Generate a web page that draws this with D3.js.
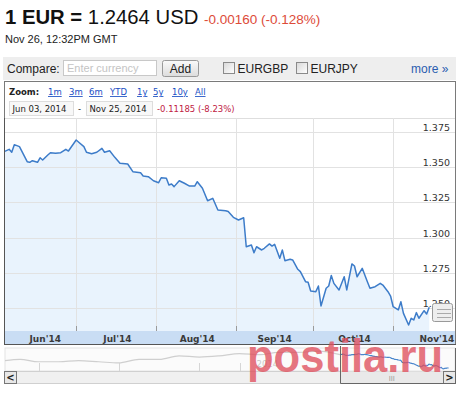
<!DOCTYPE html>
<html>
<head>
<meta charset="utf-8">
<script src="https://cdn.jsdelivr.net/npm/d3@7"></script>
<style>
body{margin:0;background:#fff;}
svg{display:block;}
</style>
</head>
<body>
<div id="chart"></div>
<script>
// EUR/USD daily closes
var dates=["2014-06-03","2014-06-05","2014-06-06","2014-06-07","2014-06-09","2014-06-10","2014-06-12","2014-06-13","2014-06-14","2014-06-16",
"2014-06-17","2014-06-18","2014-06-20","2014-06-21","2014-06-23","2014-06-25","2014-06-27","2014-06-28","2014-07-01","2014-07-02",
"2014-07-04","2014-07-05","2014-07-07","2014-07-09","2014-07-11","2014-07-12","2014-07-14","2014-07-16","2014-07-18","2014-07-21",
"2014-07-23","2014-07-26","2014-07-27","2014-07-29","2014-07-31","2014-08-02","2014-08-03","2014-08-05","2014-08-06","2014-08-07",
"2014-08-08","2014-08-10","2014-08-12","2014-08-14","2014-08-16","2014-08-17","2014-08-19","2014-08-21","2014-08-23","2014-08-25",
"2014-08-28","2014-08-29","2014-08-31","2014-09-02","2014-09-04","2014-09-05","2014-09-07","2014-09-08","2014-09-09","2014-09-11",
"2014-09-12","2014-09-14","2014-09-15","2014-09-16","2014-09-18","2014-09-19","2014-09-20","2014-09-22","2014-09-23","2014-09-25",
"2014-09-26","2014-09-28","2014-09-29","2014-09-30","2014-10-02","2014-10-03","2014-10-04","2014-10-06","2014-10-07","2014-10-08",
"2014-10-09","2014-10-11","2014-10-13","2014-10-14","2014-10-16","2014-10-17","2014-10-18","2014-10-20","2014-10-22","2014-10-23",
"2014-10-25","2014-10-27","2014-10-28","2014-10-30","2014-10-31","2014-11-01","2014-11-03","2014-11-04","2014-11-05","2014-11-07",
"2014-11-08","2014-11-09","2014-11-10","2014-11-11","2014-11-13","2014-11-14","2014-11-15"];
var rates=[1.3610,1.3627,1.3606,1.3660,1.3646,1.3610,1.3539,1.3535,1.3546,1.3535,
1.3567,1.3551,1.3587,1.3603,1.3599,1.3603,1.3627,1.3615,1.3693,1.3677,
1.3646,1.3606,1.3596,1.3606,1.3634,1.3606,1.3617,1.3570,1.3528,1.3523,
1.3468,1.3461,1.3438,1.3433,1.3404,1.3390,1.3425,1.3421,1.3374,1.3381,
1.3362,1.3404,1.3386,1.3366,1.3366,1.3397,1.3350,1.3262,1.3279,1.3196,
1.3191,1.3185,1.3144,1.3125,1.3141,1.2935,1.2947,1.2893,1.2935,1.2912,
1.2924,1.2955,1.2940,1.2952,1.2853,1.2912,1.2836,1.2846,1.2841,1.2775,
1.2758,1.2687,1.2683,1.2621,1.2616,1.2656,1.2514,1.2640,1.2656,1.2731,
1.2675,1.2628,1.2722,1.2628,1.2813,1.2798,1.2722,1.2782,1.2687,1.2640,
1.2651,1.2675,1.2663,1.2616,1.2585,1.2509,1.2486,1.2545,1.2462,1.2379,
1.2427,1.2415,1.2467,1.2427,1.2481,1.2457,1.2505];

var yTicks=[1.250,1.275,1.300,1.325,1.350,1.375];
var monthTicks=["2014-07-01","2014-08-01","2014-09-01","2014-10-01","2014-11-01"];
var monthLabels=["Jun'14","Jul'14","Aug'14","Sep'14","Oct'14","Nov'14"];
var monthLabelDates=["2014-06-19","2014-07-17","2014-08-17","2014-09-16","2014-10-17","2014-11-18"];
var zoomLinks=["1m","3m","6m","YTD","1y","5y","10y","All"];
var zoomLinkX=[48,69,89,110,137,153,172,195];

// overview (navigator) history, monthly
var navDates=["2013-01-09","2013-02-01","2013-03-01","2013-04-01","2013-05-01","2013-06-01","2013-07-01","2013-08-01","2013-09-01",
"2013-10-01","2013-11-01","2013-12-01","2014-01-01","2014-02-01","2014-03-01","2014-04-01","2014-05-01","2014-06-03"];
var navRates=[1.31,1.32,1.30,1.30,1.31,1.30,1.29,1.32,1.32,1.35,1.34,1.35,1.37,1.36,1.38,1.38,1.39,1.361];
var navTicks=["2013-03-01","2013-07-01","2013-11-01","2014-01-01"];

var parse=d3.timeParse("%Y-%m-%d");
var data=dates.map(function(d,i){return {date:parse(d),rate:rates[i]};});
var navData=navDates.map(function(d,i){return {date:parse(d),rate:navRates[i]};});

var svgWidth=460, svgHeight=393;
var font="'Liberation Sans', Arial, sans-serif";
var vfont="'DejaVu Sans', Verdana, sans-serif";

var svg=d3.select("#chart").append("svg")
  .attr("width",svgWidth)
  .attr("height",svgHeight);

var defs=svg.append("defs");
var btnGrad=defs.append("linearGradient").attr("id","btn").attr("x1",0).attr("y1",0).attr("x2",0).attr("y2",1);
btnGrad.append("stop").attr("offset","0%").attr("stop-color","#fafafa");
btnGrad.append("stop").attr("offset","100%").attr("stop-color","#dcdcdc");
var boxGrad=defs.append("linearGradient").attr("id","cb").attr("x1",0).attr("y1",0).attr("x2",1).attr("y2",1);
boxGrad.append("stop").attr("offset","0%").attr("stop-color","#d8d8d8");
boxGrad.append("stop").attr("offset","100%").attr("stop-color","#ffffff");

// ---- header
var title=svg.append("text").attr("x",5).attr("y",24)
  .attr("font-family",font).attr("font-size",20.3).attr("fill","#111");
title.append("tspan").attr("font-weight","bold").text("1 EUR =");
title.append("tspan").text(" 1.2464 USD");
svg.append("text").attr("x",204).attr("y",24)
  .attr("font-family",font).attr("font-size",13.5).attr("fill","#dd4b39")
  .text("-0.00160 (-0.128%)");
svg.append("text").attr("x",5).attr("y",43)
  .attr("font-family",font).attr("font-size",11).attr("fill","#222")
  .text("Nov 26, 12:32PM GMT");

// ---- compare bar
svg.append("rect").attr("x",3).attr("y",57).attr("width",453).attr("height",23).attr("fill","#eeeeee");
svg.append("text").attr("x",7).attr("y",73).attr("font-family",font).attr("font-size",12).attr("fill","#222").text("Compare:");
svg.append("rect").attr("x",63.5).attr("y",60.5).attr("width",93).attr("height",15).attr("fill","#fff").attr("stroke","#c8c8c8");
svg.append("text").attr("x",67).attr("y",72).attr("font-family",font).attr("font-size",11).attr("fill","#c4c4c4").text("Enter currency");
svg.append("rect").attr("x",162.5).attr("y",60.5).attr("width",36).attr("height",16).attr("rx",2)
  .attr("fill","url(#btn)").attr("stroke","#999");
svg.append("text").attr("x",180.5).attr("y",73).attr("text-anchor","middle").attr("font-family",font).attr("font-size",12).attr("fill","#222").text("Add");
[[223.5,"EURGBP"],[296.5,"EURJPY"]].forEach(function(c){
  svg.append("rect").attr("x",c[0]).attr("y",62.5).attr("width",11).attr("height",11)
    .attr("fill","url(#cb)").attr("stroke","#8a8a8a");
  svg.append("text").attr("x",c[0]+14).attr("y",73).attr("font-family",font).attr("font-size",12).attr("fill","#222").text(c[1]);
});
svg.append("text").attr("x",411).attr("y",73).attr("font-family",font).attr("font-size",12).attr("fill","#2a5db0").text("more \u00bb");

// ---- chart box
svg.append("rect").attr("x",4.5).attr("y",81.5).attr("width",451).attr("height",263)
  .attr("fill","#fff").attr("stroke","#7a7a7a");

var zoomRow=svg.append("g").attr("font-family",vfont).attr("font-size",8.5);
zoomRow.append("text").attr("x",9).attr("y",95).attr("font-weight","bold").attr("fill","#222").text("Zoom:");
zoomRow.selectAll(".zl").data(zoomLinks).enter().append("text")
  .attr("x",function(d,i){return zoomLinkX[i];}).attr("y",95)
  .attr("fill","#1a4fc4").attr("text-decoration","underline").text(function(d){return d;});

var dateRow=svg.append("g").attr("font-family",vfont).attr("font-size",8.5).attr("fill","#222");
[[9.5,64,"Jun 03, 2014"],[86.5,66,"Nov 25, 2014"]].forEach(function(b){
  dateRow.append("rect").attr("x",b[0]).attr("y",101.5).attr("width",b[1]).attr("height",14)
    .attr("fill","#f8f8f8").attr("stroke","#dddddd");
  dateRow.append("text").attr("x",b[0]+3).attr("y",112).text(b[2]);
});
dateRow.append("text").attr("x",78).attr("y",112).text("-");
dateRow.append("text").attr("x",157).attr("y",112).attr("fill","#c0213f").text("-0.11185 (-8.23%)");

// ---- main plot
var plot={left:5,right:455,top:118,bottom:331};
var xScale=d3.scaleTime()
  .domain([parse("2014-06-03"),parse("2014-11-25")])
  .range([4,455]);
var yScale=d3.scaleLinear()
  .domain([1.25,1.375])
  .range([308,132]);

defs.append("clipPath").attr("id","plotclip").append("rect")
  .attr("x",plot.left).attr("y",plot.top).attr("width",plot.right-plot.left).attr("height",plot.bottom-plot.top);

var chartGroup=svg.append("g").attr("clip-path","url(#plotclip)");

chartGroup.append("line").attr("x1",plot.left).attr("x2",plot.right).attr("y1",plot.top+0.5).attr("y2",plot.top+0.5)
  .attr("stroke","#dedede");

var area=d3.area().x(function(d){return xScale(d.date);}).y0(plot.bottom).y1(function(d){return yScale(d.rate);});
chartGroup.append("path").datum(data).attr("d",area).attr("fill","#e9f3fd");

// gridlines
chartGroup.selectAll(".hgrid").data(yTicks).enter().append("line")
  .attr("x1",plot.left).attr("x2",plot.right)
  .attr("y1",function(d){return Math.round(yScale(d))+0.5;})
  .attr("y2",function(d){return Math.round(yScale(d))+0.5;})
  .attr("stroke","#e2e2e2");
chartGroup.selectAll(".vgrid").data(monthTicks).enter().append("line")
  .attr("x1",function(d){return Math.round(xScale(parse(d)))+0.5;})
  .attr("x2",function(d){return Math.round(xScale(parse(d)))+0.5;})
  .attr("y1",plot.top).attr("y2",plot.bottom)
  .attr("stroke","#e2e2e2");
chartGroup.selectAll(".vtick").data(monthTicks).enter().append("line")
  .attr("x1",function(d){return Math.round(xScale(parse(d)))+0.5;})
  .attr("x2",function(d){return Math.round(xScale(parse(d)))+0.5;})
  .attr("y1",plot.bottom-5).attr("y2",plot.bottom)
  .attr("stroke","#9a9a9a");

var line=d3.line().x(function(d){return xScale(d.date);}).y(function(d){return yScale(d.rate);});
chartGroup.append("path").datum(data).attr("d",line)
  .attr("fill","none").attr("stroke","#3d7cc9").attr("stroke-width",1.5).attr("stroke-linejoin","round");

// y labels
svg.selectAll(".ylab").data(yTicks).enter().append("text")
  .attr("x",450).attr("y",function(d){return Math.round(yScale(d))-1;})
  .attr("text-anchor","end").attr("font-family",vfont).attr("font-size",9.5).attr("fill","#333")
  .text(function(d){return d3.format(".3f")(d);});

// small grip overlapping the right edge
var grip=svg.append("g");
grip.append("rect").attr("x",432.5).attr("y",303.5).attr("width",20).attr("height",18).attr("rx",2)
  .attr("fill","#eeeeee").attr("stroke","#9a9a9a");
[309,313,317].forEach(function(yy){
  grip.append("line").attr("x1",437).attr("x2",451).attr("y1",yy+0.5).attr("y2",yy+0.5).attr("stroke","#aaa");
});

// x axis band
svg.append("rect").attr("x",plot.left).attr("y",plot.bottom).attr("width",plot.right-plot.left).attr("height",13)
  .attr("fill","#c9ddf4");
svg.selectAll(".xlab").data(monthLabels).enter().append("text")
  .attr("x",function(d,i){return xScale(parse(monthLabelDates[i]));})
  .attr("y",341.5).attr("text-anchor","middle")
  .attr("font-family",vfont).attr("font-size",9).attr("font-weight","bold").attr("fill","#3a3a3a")
  .text(function(d){return d;});
svg.append("line").attr("x1",4).attr("x2",456).attr("y1",344.5).attr("y2",344.5).attr("stroke","#555");
svg.append("line").attr("x1",4.5).attr("x2",4.5).attr("y1",118).attr("y2",345).attr("stroke","#555");

// ---- navigator
var nav={left:5,right:455,top:348,bottom:371};
var navX=d3.scaleTime().domain([parse("2013-01-09"),parse("2014-11-25")]).range([nav.left,nav.right]);
var navY=d3.scaleLinear().domain([1.23,1.40]).range([370,350]);
svg.append("rect").attr("x",nav.left).attr("y",nav.top).attr("width",nav.right-nav.left).attr("height",nav.bottom-nav.top)
  .attr("fill","#fbfbfb").attr("stroke","#e4e4e4");
svg.selectAll(".ntick").data(navTicks).enter().append("line")
  .attr("x1",function(d){return Math.round(navX(parse(d)))+0.5;})
  .attr("x2",function(d){return Math.round(navX(parse(d)))+0.5;})
  .attr("y1",363).attr("y2",nav.bottom).attr("stroke","#d6d6d6");
svg.append("text").attr("x",navX(parse("2014-01-01"))+17).attr("y",367)
  .attr("font-family",vfont).attr("font-size",8.5).attr("fill","#c8c8c8").text("2014");
var navLine=d3.line().curve(d3.curveMonotoneX)
  .x(function(d){return navX(d.date);}).y(function(d){return navY(d.rate);});
svg.append("path").datum(navData).attr("d",navLine).attr("fill","none").attr("stroke","#cfcfcf").attr("stroke-width",1.2);
svg.append("path").datum(data).attr("d",navLine.curve(d3.curveBasis)).attr("fill","none").attr("stroke","#4a86cc").attr("stroke-width",1.2);

// scrollbar
svg.append("rect").attr("x",4.5).attr("y",371.5).attr("width",451).attr("height",12).attr("fill","#f0f0f0").attr("stroke","#d0d0d0");
svg.append("rect").attr("x",4.5).attr("y",371.5).attr("width",12).attr("height",12).attr("fill","#e8e8e8").attr("stroke","#777");
svg.append("text").attr("x",10.5).attr("y",381).attr("text-anchor","middle").attr("font-family",vfont).attr("font-size",10).attr("font-weight","bold").attr("fill","#222").text("<");
var winX=Math.round(navX(parse("2014-06-03")))+0.5;
svg.append("rect").attr("x",winX).attr("y",371.5).attr("width",443.5-winX).attr("height",12).attr("fill","#e9e9e9");
svg.append("text").attr("x",(winX+443)/2).attr("y",380.5).attr("text-anchor","middle")
  .attr("font-family",vfont).attr("font-size",7).attr("fill","#999").text("III");
svg.append("rect").attr("x",443.5).attr("y",371.5).attr("width",12).attr("height",12).attr("fill","#e8e8e8").attr("stroke","#777");
svg.append("text").attr("x",449.5).attr("y",381).attr("text-anchor","middle").attr("font-family",vfont).attr("font-size",10).attr("font-weight","bold").attr("fill","#222").text(">");
svg.append("path").attr("d","M"+winX+",346V383.5H455.5V348")
  .attr("fill","none").attr("stroke","#666");

// watermark
svg.append("text").attr("x",247).attr("y",372)
  .attr("font-family",font).attr("font-size",47).attr("font-weight","bold")
  .attr("textLength",196).attr("lengthAdjust","spacingAndGlyphs")
  .attr("fill","#e0505e").attr("fill-opacity",0.78)
  .text("postila.ru");
</script>
</body>
</html>
